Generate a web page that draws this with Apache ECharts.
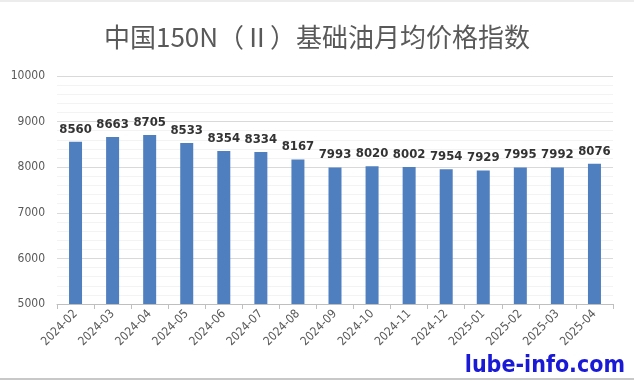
<!DOCTYPE html>
<html><head><meta charset="utf-8">
<script src="https://cdn.jsdelivr.net/npm/echarts@6/dist/echarts.min.js"></script>
<style>html,body{margin:0;padding:0;background:#fff}#c{width:634px;height:381px}</style>
</head><body><div id="c"></div>
<script>
const titleText = '中国150N（Ⅱ）基础油月均价格指数';
const categories = ['2024-02','2024-03','2024-04','2024-05','2024-06','2024-07','2024-08','2024-09','2024-10','2024-11','2024-12','2025-01','2025-02','2025-03','2025-04'];
const values = [8560,8663,8705,8533,8354,8334,8167,7993,8020,8002,7954,7929,7995,7992,8076];
const watermark = 'lube-info.com';

const chart = echarts.init(document.getElementById('c'));
chart.setOption({
  animation: false,
  backgroundColor: '#fff',
  title: {
    text: titleText, left: 'center', top: 19,
    textStyle: {fontFamily: 'Noto Sans CJK SC', fontWeight: 'normal', fontSize: 26, color: '#595959'}
  },
  grid: {left: 57, right: 21, top: 76, bottom: 77},
  xAxis: {
    type: 'category', data: categories,
    axisLine: {lineStyle: {color: '#bfbfbf'}},
    axisTick: {show: true, length: 5, lineStyle: {color: '#bfbfbf'}},
    axisLabel: {rotate: 45, fontSize: 12, color: '#595959', fontFamily: 'DejaVu Sans Condensed', margin: 8, interval: 0}
  },
  yAxis: {
    type: 'value', min: 5000, max: 10000, interval: 1000,
    axisLine: {show: false}, axisTick: {show: false},
    axisLabel: {fontSize: 12, color: '#595959', fontFamily: 'DejaVu Sans Condensed', margin: 12, formatter: v => String(v)},
    splitLine: {lineStyle: {color: '#d9d9d9'}},
    minorTick: {show: false, splitNumber: 5},
    minorSplitLine: {show: true, lineStyle: {color: '#f3f3f3'}}
  },
  series: [{
    type: 'bar', data: values, barWidth: 13,
    itemStyle: {color: '#4f7fbf'},
    label: {show: true, position: 'top', distance: 6, fontSize: 13, fontWeight: 'bold', color: '#333', fontFamily: 'DejaVu Sans Condensed'}
  }],
  graphic: [
    {type: 'line', shape: {x1: 0, y1: 1, x2: 634, y2: 1}, style: {stroke: '#d9d9d9', lineWidth: 1}},
    {type: 'line', shape: {x1: 0, y1: 379, x2: 634, y2: 379}, style: {stroke: '#c8c8c8', lineWidth: 2}},
    {type: 'text', right: 9, bottom: 3, style: {text: watermark, font: 'bold 23px "DejaVu Sans Condensed"', fill: '#1a1ad6'}}
  ]
});
</script></body></html>
